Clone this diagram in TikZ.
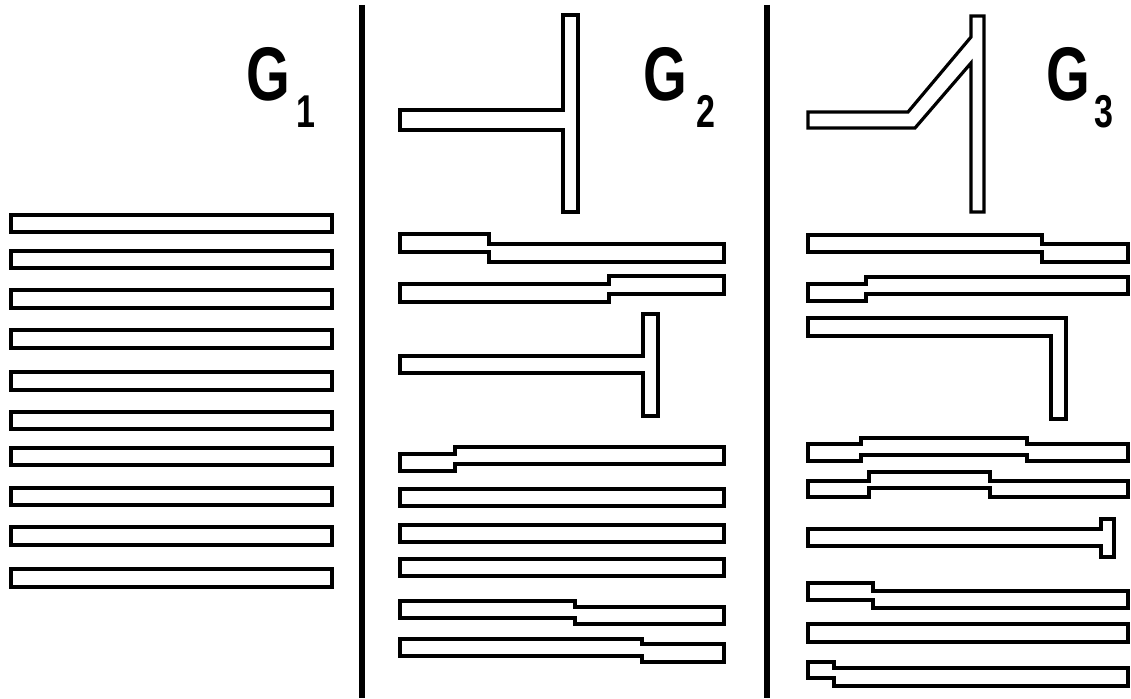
\documentclass[tikz,border=0pt]{standalone}
\usepackage{fontspec}
\setmainfont{Liberation Sans}
\usepackage{graphicx}
\tikzset{
  trace/.style={draw=black, line width=3.2pt, line join=miter, fill=white},
  divider/.style={draw=black, line width=6.5pt},
  glabel/.style={anchor=base west, inner sep=0pt, outer sep=0pt},
}
\newcommand{\bigG}{\scalebox{0.74}[1]{\fontsize{76}{76}\selectfont\bfseries G}}
\newcommand{\subG}[1]{\scalebox{0.74}[1]{\fontsize{46}{46}\selectfont\bfseries #1}}
\begin{document}
\begin{tikzpicture}[x=1pt,y=-1pt]
\useasboundingbox (0,0) rectangle (1131,698);
% dividers
\coordinate (d1t) at (362,5); \coordinate (d1b) at (362,698);
\coordinate (d2t) at (767,5); \coordinate (d2b) at (767,698);
\draw[divider] (d1t) -- (d1b);
\draw[divider] (d2t) -- (d2b);
% labels
\node[glabel] (g1) at (246,100) {\bigG};
\node[glabel] (s1) at (296,128) {\subG{1}};
\node[glabel] (g2) at (643,100) {\bigG};
\node[glabel] (s2) at (696,128) {\subG{2}};
\node[glabel] (g3) at (1046,100) {\bigG};
\node[glabel] (s3) at (1094,128) {\subG{3}};
% ---------- G1 ----------
\foreach \t/\b in {215/232,251/268,290/308,330/348,372/390,412/429,448/465,488/505,527/545,569/587}
  \draw[trace] (11,\t) rectangle (332,\b);
% ---------- G2 ----------
\draw[trace] (400,110) -- (563,110) -- (563,15) -- (578,15) -- (578,212) -- (563,212) -- (563,130) -- (400,130) -- cycle;
\draw[trace] (400,234) -- (489,234) -- (489,244) -- (724,244) -- (724,262) -- (489,262) -- (489,252) -- (400,252) -- cycle;
\draw[trace] (400,284) -- (609,284) -- (609,276) -- (724,276) -- (724,294) -- (609,294) -- (609,302) -- (400,302) -- cycle;
\draw[trace] (400,356) -- (643,356) -- (643,314) -- (658,314) -- (658,416) -- (643,416) -- (643,373) -- (400,373) -- cycle;
\draw[trace] (400,454) -- (455,454) -- (455,447) -- (724,447) -- (724,464) -- (455,464) -- (455,471) -- (400,471) -- cycle;
\draw[trace] (400,489) rectangle (724,506);
\draw[trace] (400,525) rectangle (724,542);
\draw[trace] (400,559) rectangle (724,576);
\draw[trace] (400,601) -- (575,601) -- (575,607) -- (724,607) -- (724,624) -- (575,624) -- (575,618) -- (400,618) -- cycle;
\draw[trace] (400,639) -- (642,639) -- (642,644) -- (724,644) -- (724,662) -- (642,662) -- (642,656) -- (400,656) -- cycle;
% ---------- G3 ----------
\draw[trace] (808,112) -- (908,112) -- (971,37) -- (971,16) -- (984,16) -- (984,212) -- (971,212) -- (971,63) -- (915,128) -- (808,128) -- cycle;
\draw[trace] (808,235) -- (1042,235) -- (1042,244) -- (1128,244) -- (1128,262) -- (1042,262) -- (1042,252) -- (808,252) -- cycle;
\draw[trace] (808,284) -- (866,284) -- (866,277) -- (1128,277) -- (1128,294) -- (866,294) -- (866,301) -- (808,301) -- cycle;
\draw[trace] (808,318) -- (1066,318) -- (1066,419) -- (1051,419) -- (1051,336) -- (808,336) -- cycle;
\draw[trace] (808,444) -- (861,444) -- (861,438) -- (1027,438) -- (1027,444) -- (1128,444) -- (1128,461) -- (1027,461) -- (1027,455) -- (861,455) -- (861,461) -- (808,461) -- cycle;
\draw[trace] (808,481) -- (869,481) -- (869,472) -- (990,472) -- (990,481) -- (1128,481) -- (1128,497) -- (990,497) -- (990,488) -- (869,488) -- (869,497) -- (808,497) -- cycle;
\draw[trace] (808,529) -- (1101,529) -- (1101,519) -- (1114,519) -- (1114,557) -- (1101,557) -- (1101,546) -- (808,546) -- cycle;
\draw[trace] (808,583) -- (873,583) -- (873,591) -- (1128,591) -- (1128,608) -- (873,608) -- (873,600) -- (808,600) -- cycle;
\draw[trace] (808,624) rectangle (1128,642);
\draw[trace] (808,662) -- (834,662) -- (834,668) -- (1128,668) -- (1128,686) -- (834,686) -- (834,678) -- (808,678) -- cycle;
\end{tikzpicture}
\end{document}
